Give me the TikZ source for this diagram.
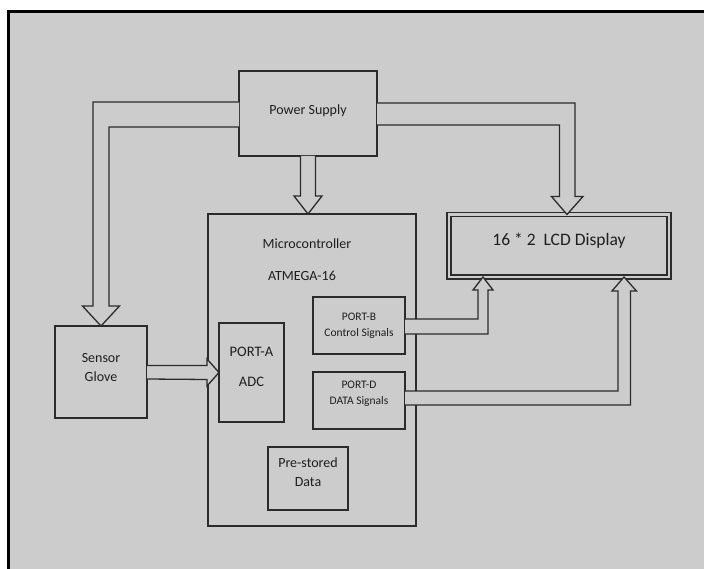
\documentclass[tikz,border=0pt]{standalone}
\usepackage{fontspec}
\setmainfont{Carlito}
\usetikzlibrary{calc}

\definecolor{bggray}{HTML}{CCCCCC}
\definecolor{linegray}{HTML}{2B2B2B}
\definecolor{txtgray}{HTML}{1E1E1E}

\begin{document}
\begin{tikzpicture}[
  x=1pt, y=-1pt,
  box/.style={rectangle, draw=linegray, line width=1.3pt, fill=bggray,
              inner sep=0pt, outer sep=0pt, align=center, text=txtgray},
  lcdbox/.style={box, double=bggray, double distance=2.8pt},
  blockarrow/.style={draw=linegray, line width=1.3pt, fill=bggray, line join=miter},
  lbl/.style={text=txtgray, inner sep=0pt}
]
\useasboundingbox (0,0) rectangle (704,569);

% Frame
\fill[white] (0,0) rectangle (704,569);
\fill[bggray] (8,12) rectangle (704,569);
\draw[black, line width=3pt] (8,569) -- (8,12) -- (704,12);

% Blocks
\node[box, minimum width=138pt, minimum height=85pt,
      font=\fontsize{14}{17}\selectfont] (ps) at (308,113.5) {Power Supply\\[-9pt]};
\node[box, minimum width=208pt, minimum height=312pt] (mc) at (312,370) {};
\node[lbl, font=\fontsize{14}{17}\selectfont] (mctitle) at (307,244) {Microcontroller};
\node[lbl, font=\fontsize{14}{17}\selectfont] (mcchip) at (302,276) {ATMEGA-16};
\node[lcdbox, minimum width=220pt, minimum height=62.5pt,
      font=\fontsize{17.5}{21}\selectfont] (lcd) at (559,245.75) {16 * 2\ \ LCD Display\\[-8pt]};
\node[box, minimum width=92pt, minimum height=92pt,
      font=\fontsize{14}{19}\selectfont] (sg) at (101,372) {Sensor\\Glove\\[-9pt]};
\node[box, minimum width=65pt, minimum height=99pt,
      font=\fontsize{14.5}{30}\selectfont] (pa) at (251.5,372.5) {PORT-A\\ADC\\[-18pt]};
\node[box, minimum width=92pt, minimum height=57pt,
      font=\fontsize{11.5}{16}\selectfont] (pb) at (359,325.5) {PORT-B\\Control Signals};
\node[box, minimum width=92pt, minimum height=57pt,
      font=\fontsize{11.5}{16}\selectfont] (pd) at (359,400.5) {PORT-D\\DATA Signals\\};
\node[box, minimum width=80pt, minimum height=63pt,
      font=\fontsize{14}{19}\selectfont] (pre) at (308,478.5) {Pre-stored\\Data\\[-6pt]};

% Arrow tips on the LCD
\coordinate (pbtip) at ($(lcd.south west)+(34,0)$);
\coordinate (pdtip) at ($(lcd.south east)+(-45,0)$);

% Power lines
\draw[blockarrow] ($(ps.west)+(0,-11.5)$) -| ($(sg.north)+(-8,-20)$) -- ++(-10.5,0)
  -- (sg.north) -- ++(18.5,-20) -- ++(-10.5,0) |- ($(ps.west)+(0,13.5)$);
\draw[blockarrow] ($(ps.east)+(0,-10.5)$) -| ($(lcd.north)+(16,-18)$) -- ++(8,0)
  -- ($(lcd.north)+(8,0)$) -- ++(-15.5,-18) -- ++(8,0) |- ($(ps.east)+(0,11.5)$);
\draw[blockarrow] ($(ps.south)+(-7.5,0)$) -- ++(0,40) -- ++(-6.5,0)
  -- (ps.south |- mc.north) -- ++(14,-18) -- ++(-6.5,0) -- ($(ps.south)+(7.5,0)$);

% Sensor glove to ADC
\draw[blockarrow] ($(sg.east)+(0,-6.5)$) -- ++(60,0) -- ++(0,-6.5)
  -- (pa.west) -- ++(-12,13.5) -- ++(0,-6.5) -- ($(sg.east)+(0,7)$);

% Ports to LCD
\draw[blockarrow] ($(pb.east)+(0,-6.5)$) -| ($(pbtip)+(-5,13)$) -- ++(-5,0)
  -- (pbtip) -- ++(10,13) -- ++(-5,0) |- ($(pb.east)+(0,8.5)$);
\draw[blockarrow] ($(pd.east)+(0,-9.5)$) -| ($(pdtip)+(-6,14)$) -- ++(-6,0)
  -- (pdtip) -- ++(12.5,14) -- ++(-6,0) |- ($(pd.east)+(0,4.5)$);

\end{tikzpicture}
\end{document}
